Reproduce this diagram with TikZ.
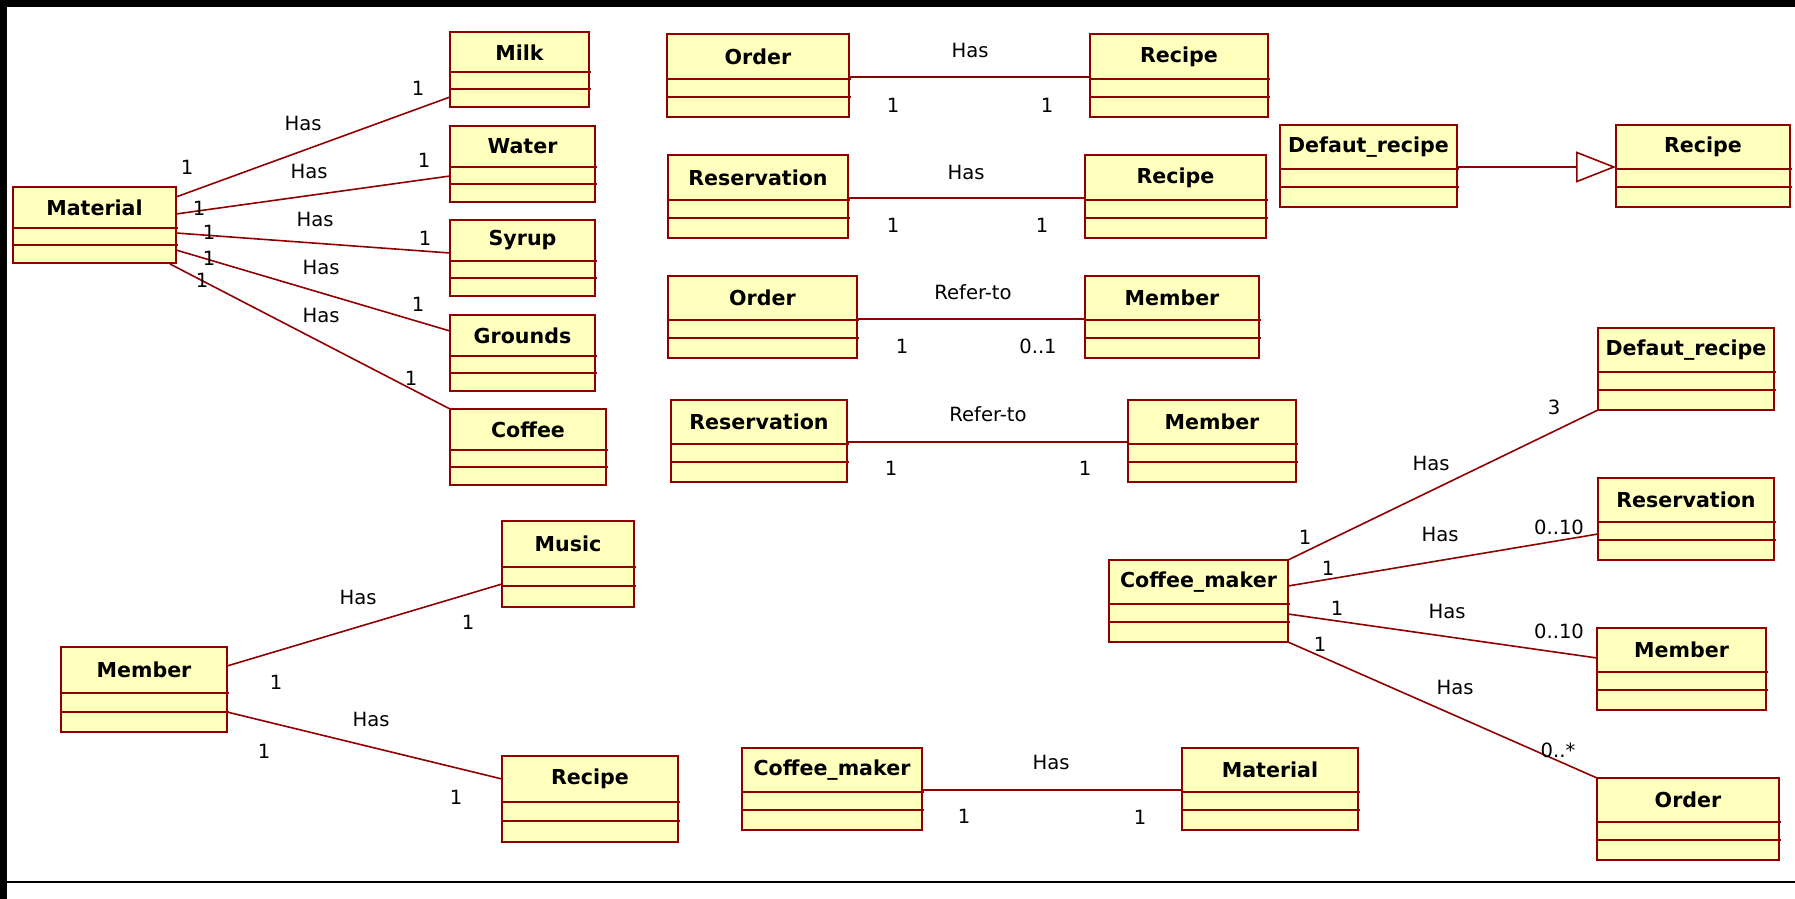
\documentclass[tikz,border=0pt]{standalone}
\usepackage{fontspec}
\setmainfont{DejaVu Sans}
\usetikzlibrary{calc, arrows.meta}

\definecolor{roseline}{RGB}{145,0,0}
\definecolor{rosefill}{RGB}{255,255,190}

\tikzset{
  classbox/.style = {draw = roseline, fill = rosefill, line width = 1pt, anchor = north west, inner sep = 0pt, outer sep = 0pt},
  classname/.style = {font = \fontsize{10.3}{12}\selectfont\bfseries, inner sep = 0pt},
  compartment/.style = {draw = roseline, line width = 1pt},
  assoc/.style = {draw = roseline, line width = 0.8pt},
  inherit/.style = {assoc, -{Triangle[length = 20pt, width = 15.5pt, fill = white]}},
  mult/.style = {font = \fontsize{9.8}{12}\selectfont, inner sep = 0pt},
}

% class box: name, x, y (top left), width, height, title
\newcommand{\umlclass}[6]{%
  \node [classbox, minimum width = #4*0.5pt, minimum height = #5*0.5pt] (#1) at (#2, #3) {};
  \node [classname] (#1-title) at ($(#1.north) + (0, 0.27*#5)$) {#6};
  \draw [compartment] ($(#1.north west) + (0, 0.54*#5)$) -- ++(#4 + 2, 0);
  \draw [compartment] ($(#1.north west) + (0, 0.76*#5)$) -- ++(#4 + 2, 0);
}

\begin{document}
\begin{tikzpicture}[x = 0.5pt, y = -0.5pt]
  \useasboundingbox (0, 0) rectangle (1795, 899);
  \fill [black] (0, 0) rectangle (1795, 899);
  \fill [white] (7, 7) rectangle (1795, 899);
  \draw [line width = 0.75pt] (7, 882) -- (1795, 882);

  % material and its parts
  \umlclass{material}{13}{187}{163}{76}{Material}
  \umlclass{milk}{450}{32}{139}{75}{Milk}
  \umlclass{water}{450}{126}{145}{76}{Water}
  \umlclass{syrup}{450}{220}{145}{76}{Syrup}
  \umlclass{grounds}{450}{315}{145}{76}{Grounds}
  \umlclass{coffee}{450}{409}{156}{76}{Coffee}

  % pairs in the middle
  \umlclass{orderA}{667}{34}{182}{83}{Order}
  \umlclass{recipeA}{1090}{34}{178}{83}{Recipe}
  \umlclass{reservA}{668}{155}{180}{83}{Reservation}
  \umlclass{recipeB}{1085}{155}{181}{83}{Recipe}
  \umlclass{orderB}{668}{276}{189}{82}{Order}
  \umlclass{memberA}{1085}{276}{174}{82}{Member}
  \umlclass{reservB}{671}{400}{176}{82}{Reservation}
  \umlclass{memberB}{1128}{400}{168}{82}{Member}
  \umlclass{defaultA}{1280}{125}{177}{82}{Defaut\_recipe}
  \umlclass{recipeC}{1616}{125}{174}{82}{Recipe}

  % coffee maker
  \umlclass{makerA}{1109}{560}{179}{82}{Coffee\_maker}
  \umlclass{defaultB}{1598}{328}{176}{82}{Defaut\_recipe}
  \umlclass{reservC}{1598}{478}{176}{82}{Reservation}
  \umlclass{memberC}{1597}{628}{169}{82}{Member}
  \umlclass{orderC}{1597}{778}{182}{82}{Order}
  \umlclass{makerB}{742}{748}{180}{82}{Coffee\_maker}
  \umlclass{materialB}{1182}{748}{176}{82}{Material}

  % member
  \umlclass{memberD}{61}{647}{166}{85}{Member}
  \umlclass{music}{502}{521}{132}{86}{Music}
  \umlclass{recipeD}{502}{756}{176}{86}{Recipe}

  \draw [assoc] ($(material.north east) + (0, 10)$) -- ($(milk.north west) + (0, 65)$);
  \draw [assoc] ($(material.north east) + (0, 27)$) -- ($(water.north west) + (0, 50)$);
  \draw [assoc] ($(material.north east) + (0, 46)$) -- ($(syrup.north west) + (0, 33)$);
  \draw [assoc] ($(material.north east) + (0, 63)$) -- ($(grounds.north west) + (0, 16)$);
  \draw [assoc] ($(material.south east) + (-6, 1)$) -- (coffee.north west);
  \node [mult] (milk-a) at (187, 167) {1};
  \node [mult] (milk-has) at (303, 123) {Has};
  \node [mult] (milk-b) at (418, 88) {1};
  \node [mult] (water-a) at (199, 208) {1};
  \node [mult] (water-has) at (309, 171) {Has};
  \node [mult] (water-b) at (424, 160) {1};
  \node [mult] (syrup-a) at (209, 232) {1};
  \node [mult] (syrup-has) at (315, 219) {Has};
  \node [mult] (syrup-b) at (425, 238) {1};
  \node [mult] (grounds-a) at (209, 258) {1};
  \node [mult] (grounds-has) at (321, 267) {Has};
  \node [mult] (grounds-b) at (418, 304) {1};
  \node [mult] (coffee-a) at (202, 280) {1};
  \node [mult] (coffee-has) at (321, 315) {Has};
  \node [mult] (coffee-b) at (411, 378) {1};

  \draw [assoc] ($(orderA.north east) + (0, 43)$) -- ($(recipeA.north west) + (0, 43)$);
  \node [mult] (orderA-has) at (970, 50) {Has};
  \node [mult] (orderA-a) at (893, 105) {1};
  \node [mult] (orderA-b) at (1047, 105) {1};
  \draw [assoc] ($(reservA.north east) + (0, 43)$) -- ($(recipeB.north west) + (0, 43)$);
  \node [mult] (reservA-has) at (966, 172) {Has};
  \node [mult] (reservA-a) at (893, 225) {1};
  \node [mult] (reservA-b) at (1042, 225) {1};
  \draw [assoc] ($(orderB.north east) + (0, 43)$) -- ($(memberA.north west) + (0, 43)$);
  \node [mult] (orderB-ref) at (973, 292) {Refer-to};
  \node [mult] (orderB-a) at (902, 346) {1};
  \node [mult] (orderB-b) at (1038, 346) {0..1};
  \draw [assoc] ($(reservB.north east) + (0, 42)$) -- ($(memberB.north west) + (0, 42)$);
  \node [mult] (reservB-ref) at (988, 414) {Refer-to};
  \node [mult] (reservB-a) at (891, 468) {1};
  \node [mult] (reservB-b) at (1085, 468) {1};
  \draw [inherit] ($(defaultA.north east) + (0, 42)$) -- ($(recipeC.north west) + (0, 42)$);

  \draw [assoc] (makerA.north east) -- (defaultB.south west);
  \draw [assoc] ($(makerA.north east) + (0, 26)$) -- ($(reservC.north west) + (0, 56)$);
  \draw [assoc] ($(makerA.north east) + (0, 54)$) -- ($(memberC.north west) + (0, 30)$);
  \draw [assoc] (makerA.south east) -- (orderC.north west);
  \node [mult] (defaultB-b) at (1554, 407) {3};
  \node [mult] (defaultB-has) at (1431, 463) {Has};
  \node [mult] (defaultB-a) at (1305, 537) {1};
  \node [mult] (reservC-has) at (1440, 534) {Has};
  \node [mult] (reservC-b) at (1559, 527) {0..10};
  \node [mult] (reservC-a) at (1328, 568) {1};
  \node [mult] (memberC-a) at (1337, 608) {1};
  \node [mult] (memberC-has) at (1447, 611) {Has};
  \node [mult] (memberC-b) at (1559, 631) {0..10};
  \node [mult] (orderC-a) at (1320, 644) {1};
  \node [mult] (orderC-has) at (1455, 687) {Has};
  \node [mult] (orderC-b) at (1558, 750) {0..*};
  \draw [assoc] ($(makerB.north east) + (0, 42)$) -- ($(materialB.north west) + (0, 42)$);
  \node [mult] (makerB-has) at (1051, 762) {Has};
  \node [mult] (makerB-a) at (964, 816) {1};
  \node [mult] (makerB-b) at (1140, 817) {1};

  \draw [assoc] ($(memberD.north east) + (0, 19)$) -- ($(music.north west) + (0, 63)$);
  \draw [assoc] ($(memberD.north east) + (0, 65)$) -- ($(recipeD.north west) + (0, 23)$);
  \node [mult] (music-has) at (358, 597) {Has};
  \node [mult] (music-b) at (468, 622) {1};
  \node [mult] (music-a) at (276, 682) {1};
  \node [mult] (recipeD-has) at (371, 719) {Has};
  \node [mult] (recipeD-a) at (264, 751) {1};
  \node [mult] (recipeD-b) at (456, 797) {1};
\end{tikzpicture}
\end{document}
